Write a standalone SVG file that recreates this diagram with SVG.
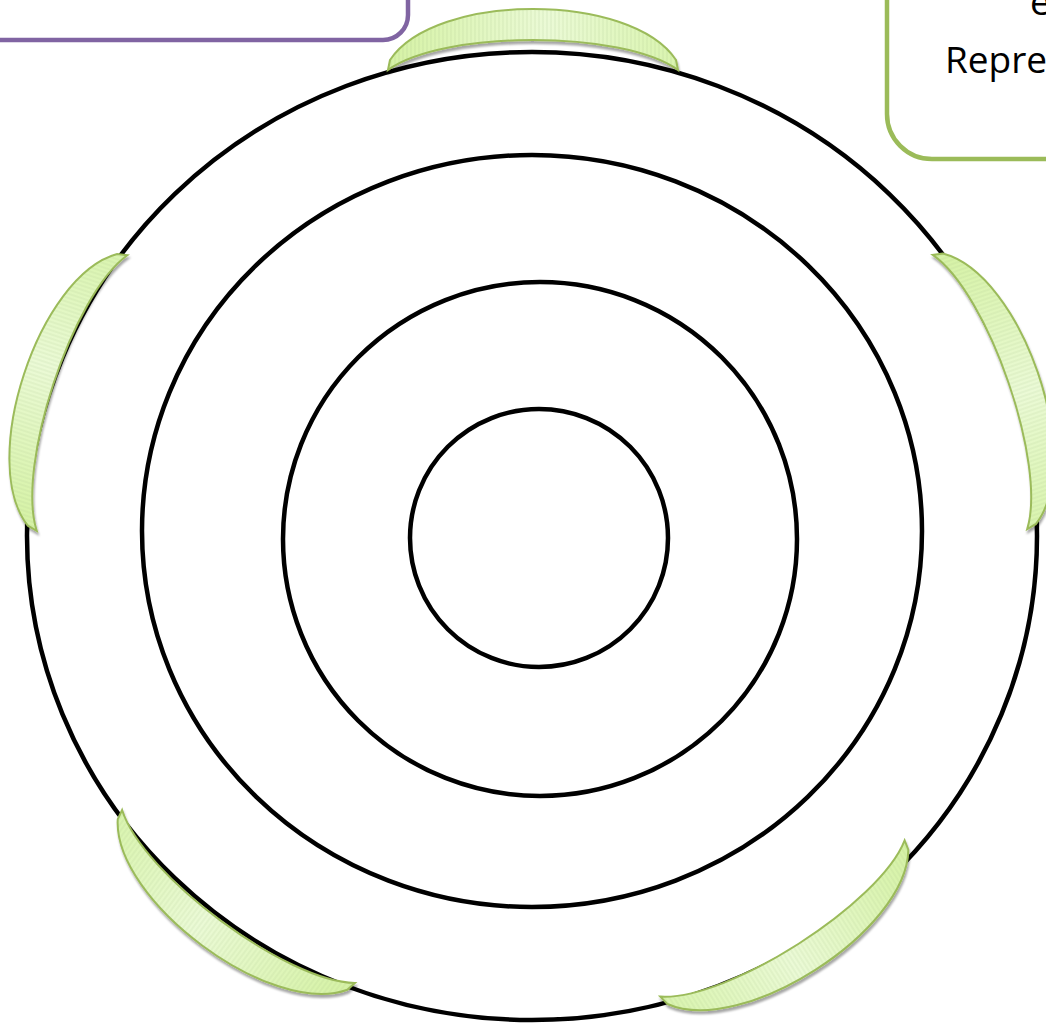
<svg xmlns="http://www.w3.org/2000/svg" xmlns:xlink="http://www.w3.org/1999/xlink" width="1046" height="1024" viewBox="0 0 1046 1024">
  <style>
    .ring { fill: none; stroke: #000; stroke-width: 4.5; }
    .cres { fill: url(#cresGrad); stroke: #9BBB59; stroke-width: 2; }
    .hatch { fill: url(#hatch); stroke: none; }
    .label { font-family: "Open Sans", "Liberation Sans", sans-serif; font-size: 37px; fill: #000; }
  </style>
  <defs>
    <linearGradient id="cresGrad" x1="0" y1="0" x2="1" y2="0">
      <stop offset="0" stop-color="#D5F2A4"/>
      <stop offset="0.55" stop-color="#EBFAD6"/>
      <stop offset="1" stop-color="#D9F4AE"/>
    </linearGradient>
    <pattern id="hatch" patternUnits="userSpaceOnUse" width="4" height="8">
      <line x1="2" y1="0" x2="2" y2="8" stroke="#9fb888" stroke-width="0.5" stroke-opacity="0.45"/>
    </pattern>
    <filter id="shadow" x="-10%" y="-10%" width="120%" height="130%">
      <feDropShadow dx="1" dy="3" stdDeviation="1.2" flood-color="#000" flood-opacity="0.35"/>
    </filter>
    <path id="crescent" d="M -143 -10 C -98 -78 98 -78 143 -10 L 145 0 C 90 -40 -90 -40 -145 0 Z"/>
  </defs>

  <rect width="1046" height="1024" fill="#fff"/>

  <g id="box-purple">
    <rect x="-30" y="-120" width="438" height="160" rx="25" ry="25" fill="#fff" stroke="#8064A2" stroke-width="4.5"/>
  </g>

  <g id="box-green">
    <rect x="887" y="-120" width="220" height="279" rx="45" ry="45" fill="#fff" stroke="#9BBB59" stroke-width="4.5"/>
    <text class="label" x="1030" y="15">e</text>
    <text class="label" x="945" y="73">Repre</text>
  </g>

  <g id="rings">
    <ellipse id="ring-outer" class="ring" cx="532" cy="536" rx="505" ry="484"/>
    <ellipse id="ring-2" class="ring" cx="532" cy="531" rx="390" ry="376"/>
    <circle id="ring-3" class="ring" cx="540" cy="539" r="257"/>
    <circle id="ring-inner" class="ring" cx="539" cy="538" r="129"/>
  </g>

  <g id="connectors"></g>

  <g id="crescent-top" filter="url(#shadow)">
    <g transform="translate(533 70)">
      <use xlink:href="#crescent" class="cres"/>
      <use xlink:href="#crescent" class="hatch"/>
    </g>
  </g>
  <g id="crescent-right" filter="url(#shadow)">
    <g transform="translate(980 392) rotate(71)">
      <use xlink:href="#crescent" class="cres"/>
      <use xlink:href="#crescent" class="hatch"/>
    </g>
  </g>
  <g id="crescent-bottom-right" filter="url(#shadow)">
    <g transform="translate(782.5 918.5) rotate(147.4)">
      <use xlink:href="#crescent" class="cres"/>
      <use xlink:href="#crescent" class="hatch"/>
    </g>
  </g>
  <g id="crescent-bottom-left" filter="url(#shadow)">
    <g transform="translate(238.5 896.5) rotate(-143.4)">
      <use xlink:href="#crescent" class="cres"/>
      <use xlink:href="#crescent" class="hatch"/>
    </g>
  </g>
  <g id="crescent-left" filter="url(#shadow)">
    <g transform="translate(82 393) rotate(-71.8)">
      <use xlink:href="#crescent" class="cres"/>
      <use xlink:href="#crescent" class="hatch"/>
    </g>
  </g>
</svg>
